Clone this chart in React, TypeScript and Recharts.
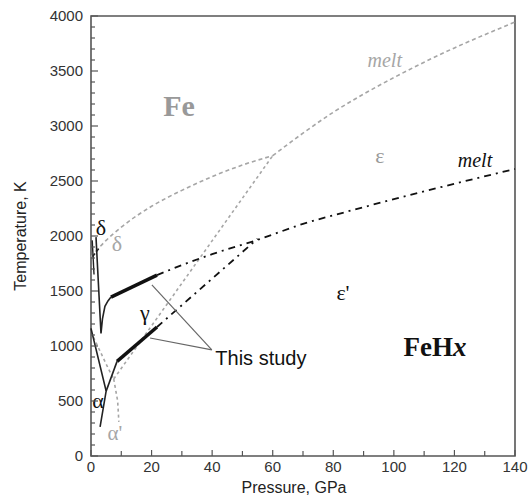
import {
  ComposedChart,
  Line,
  XAxis,
  YAxis,
  ReferenceArea,
  ReferenceDot,
  Label,
} from "recharts";

// ---- Fe phase boundaries (grey dashed) ----
const feMeltLow = [
  { P: 0, T: 1811 },
  { P: 5, T: 1960 },
  { P: 10, T: 2080 },
  { P: 20, T: 2270 },
  { P: 30, T: 2415 },
  { P: 40, T: 2540 },
  { P: 50, T: 2645 },
  { P: 60, T: 2730 },
];
const feMeltHigh = [
  { P: 60, T: 2730 },
  { P: 70, T: 2935 },
  { P: 80, T: 3125 },
  { P: 90, T: 3290 },
  { P: 100, T: 3440 },
  { P: 110, T: 3580 },
  { P: 120, T: 3710 },
  { P: 130, T: 3830 },
  { P: 140, T: 3945 },
];
const feGammaEps = [
  { P: 7.5, T: 700 },
  { P: 60, T: 2730 },
];
const feAlphaGamma = [
  { P: 0.8, T: 1080 },
  { P: 5.8, T: 790 },
  { P: 7.5, T: 700 },
];
const feAlphaEps = [
  { P: 7.5, T: 700 },
  { P: 8.8, T: 500 },
  { P: 9.2, T: 310 },
];

// ---- FeHx boundaries (black) ----
const fehDeltaV = [
  { P: 1.65, T: 1990 },
  { P: 3.3, T: 1115 },
  { P: 3.8, T: 1250 },
  { P: 4.6, T: 1360 },
  { P: 5.6, T: 1410 },
  { P: 6.6, T: 1445 },
];
const fehWedge = [
  { P: 0.4, T: 1960 },
  { P: 1.0, T: 1650 },
];
const fehDeltaTick = [
  { P: 0.55, T: 1812 },
  { P: 2.7, T: 1890 },
];
const studyMelt = [
  { P: 6.6, T: 1445 },
  { P: 21.8, T: 1645 },
];
const fehMelt = [
  { P: 21.8, T: 1645 },
  { P: 30, T: 1735 },
  { P: 40, T: 1835 },
  { P: 55, T: 1965 },
  { P: 70, T: 2110 },
  { P: 85, T: 2225 },
  { P: 100, T: 2335 },
  { P: 120, T: 2475 },
  { P: 140, T: 2610 },
];
const fehAlpha = [
  { P: 0, T: 1160 },
  { P: 5, T: 590 },
  { P: 3, T: 265 },
];
const fehGammaLow = [
  { P: 5, T: 590 },
  { P: 8.6, T: 860 },
];
const studyGammaEps = [
  { P: 8.6, T: 860 },
  { P: 21.8, T: 1173 },
];
const fehGammaEps = [
  { P: 21.8, T: 1173 },
  { P: 55, T: 1975 },
];

// "This study" pointers
const pointerUpper = [
  { P: 20.1, T: 1555 },
  { P: 39.9, T: 964 },
];
const pointerLower = [
  { P: 19.5, T: 1073 },
  { P: 39.9, T: 964 },
];

const xMajor = [0, 20, 40, 60, 80, 100, 120, 140];
const yMajor = [0, 500, 1000, 1500, 2000, 2500, 3000, 3500, 4000];
const xTicks = Array.from({ length: 15 }, (_, i) => i * 10);
const yTicks = Array.from({ length: 41 }, (_, i) => i * 100);

const SANS = "'Liberation Sans', Arial, sans-serif";
const SERIF = "'Liberation Serif', 'Times New Roman', serif";
const AXIS = "#555";
const GREY = "#a6a6a6";
const DASH_DOT = "7 5 2 5";

function YTick(props: any) {
  const { x, y, payload } = props;
  const v = payload.value;
  const major = yMajor.includes(v);
  const ax = x + 8;
  return (
    <g>
      <line x1={ax} x2={ax + (major ? 7 : 4)} y1={y} y2={y} stroke={AXIS} strokeWidth={1.2} />
      {major && (
        <text x={x} y={y} dy={5} textAnchor="end" fontFamily={SANS} fontSize={15} fill="#333">
          {v}
        </text>
      )}
    </g>
  );
}

function XTick(props: any) {
  const { x, y, payload } = props;
  const v = payload.value;
  const major = xMajor.includes(v);
  const ay = y - 4;
  return (
    <g>
      <line x1={x} x2={x} y1={ay} y2={ay - (major ? 6 : 5)} stroke={AXIS} strokeWidth={1.2} />
      {major && (
        <text x={x} y={y + 12} textAnchor="middle" fontFamily={SANS} fontSize={15} fill="#333">
          {v}
        </text>
      )}
    </g>
  );
}

function note(key: string, P: number, T: number, content: any, style: any) {
  return (
    <ReferenceDot
      key={key}
      x={P}
      y={T}
      r={0}
      fill="none"
      stroke="none"
      label={(p: any) => {
        const vb = p.viewBox || {};
        return (
          <text
            x={vb.x}
            y={vb.y}
            textAnchor="middle"
            dominantBaseline="central"
            {...style}
          >
            {content}
          </text>
        );
      }}
    />
  );
}

export default function App() {
  return (
    <div style={{ position: "absolute", left: 0, top: 0, background: "#fff" }}>
      <ComposedChart
        width={530}
        height={497}
        margin={{ top: 16, right: 15, bottom: 0, left: 0 }}
      >
        <XAxis
          type="number"
          dataKey="P"
          domain={[0, 140]}
          ticks={xTicks}
          interval={0}
          tick={<XTick />}
          tickLine={false}
          tickSize={0}
          tickMargin={4}
          axisLine={false}
          height={41}
        >
          <Label
            content={(p: any) => {
              const vb = p.viewBox;
              return (
                <text x={vb.x + vb.width / 2 - 9} y={vb.y + 37} textAnchor="middle" fontFamily={SANS} fontSize={16} fill="#222">
                  Pressure, GPa
                </text>
              );
            }}
          />
        </XAxis>
        <YAxis
          type="number"
          dataKey="T"
          domain={[0, 4000]}
          ticks={yTicks}
          interval={0}
          tick={<YTick />}
          tickLine={false}
          tickSize={0}
          tickMargin={8}
          axisLine={false}
          width={91}
        >
          <Label
            content={(p: any) => {
              const vb = p.viewBox;
              const cy = vb.y + vb.height / 2;
              return (
                <text x={20} y={cy} transform={`rotate(-90, 20, ${cy})`} textAnchor="middle" dominantBaseline="central" fontFamily={SANS} fontSize={16} fill="#222">
                  Temperature, K
                </text>
              );
            }}
          />
        </YAxis>

        <ReferenceArea x1={0} x2={140} y1={0} y2={4000} fill="none" stroke={AXIS} strokeWidth={1.6} />

        {/* Fe */}
        <Line data={feMeltLow} dataKey="T" type="monotone" stroke={GREY} strokeWidth={1.6} strokeDasharray="4 3" dot={false} isAnimationActive={false} />
        <Line data={feMeltHigh} dataKey="T" type="monotone" stroke={GREY} strokeWidth={1.6} strokeDasharray="4 3" dot={false} isAnimationActive={false} />
        <Line data={feGammaEps} dataKey="T" type="linear" stroke={GREY} strokeWidth={1.6} strokeDasharray="3 3" dot={false} isAnimationActive={false} />
        <Line data={feAlphaGamma} dataKey="T" type="linear" stroke={GREY} strokeWidth={1.6} strokeDasharray="3 3" dot={false} isAnimationActive={false} />
        <Line data={feAlphaEps} dataKey="T" type="linear" stroke={GREY} strokeWidth={1.6} strokeDasharray="3 3" dot={false} isAnimationActive={false} />

        {/* FeHx */}
        <Line data={fehWedge} dataKey="T" type="linear" stroke="#222" strokeWidth={1.4} dot={false} isAnimationActive={false} />
        <Line data={fehDeltaV} dataKey="T" type="linear" stroke="#222" strokeWidth={1.6} dot={false} isAnimationActive={false} />
        <Line data={fehDeltaTick} dataKey="T" type="linear" stroke="#222" strokeWidth={1.4} strokeDasharray="4 2" dot={false} isAnimationActive={false} />
        <Line data={studyMelt} dataKey="T" type="linear" stroke="#111" strokeWidth={3.5} dot={false} isAnimationActive={false} />
        <Line data={fehMelt} dataKey="T" type="monotone" stroke="#111" strokeWidth={1.8} strokeDasharray={DASH_DOT} dot={false} isAnimationActive={false} />
        <Line data={fehAlpha} dataKey="T" type="linear" stroke="#222" strokeWidth={1.6} dot={false} isAnimationActive={false} />
        <Line data={fehGammaLow} dataKey="T" type="linear" stroke="#222" strokeWidth={1.6} dot={false} isAnimationActive={false} />
        <Line data={studyGammaEps} dataKey="T" type="linear" stroke="#111" strokeWidth={3.5} dot={false} isAnimationActive={false} />
        <Line data={fehGammaEps} dataKey="T" type="linear" stroke="#111" strokeWidth={1.8} strokeDasharray={DASH_DOT} dot={false} isAnimationActive={false} />

        {/* pointers */}
        <Line data={pointerUpper} dataKey="T" type="linear" stroke="#666" strokeWidth={1.2} dot={false} isAnimationActive={false} />
        <Line data={pointerLower} dataKey="T" type="linear" stroke="#666" strokeWidth={1.2} dot={false} isAnimationActive={false} />

        {note("fe", 29.1, 3182, "Fe", { fontFamily: SERIF, fontSize: 30, fontWeight: "bold", fill: "#999" })}
        {note("meltFe", 97, 3600, "melt", { fontFamily: SERIF, fontSize: 20, fontStyle: "italic", fill: GREY })}
        {note("eps", 95.4, 2736, "ε", { fontFamily: SERIF, fontSize: 22, fill: "#999" })}
        {note("meltFeH", 126.8, 2690, "melt", { fontFamily: SERIF, fontSize: 20, fontStyle: "italic", fill: "#111" })}
        {note("deltaB", 3.3, 2073, "δ", { fontFamily: SERIF, fontSize: 22, fill: "#111" })}
        {note("deltaG", 8.6, 1936, "δ", { fontFamily: SERIF, fontSize: 22, fill: GREY })}
        {note("gamma", 17.8, 1309, "γ", { fontFamily: SERIF, fontSize: 22, fill: "#111" })}
        {note("epsP", 83.2, 1482, "ε'", { fontFamily: SERIF, fontSize: 22, fill: "#111" })}
        {note("alphaB", 2.3, 509, "α", { fontFamily: SERIF, fontSize: 22, fill: "#111" })}
        {note("alphaG", 7.9, 209, "α'", { fontFamily: SERIF, fontSize: 21, fill: GREY })}
        {note("study", 56.1, 890, "This study", { fontFamily: SANS, fontSize: 20, fill: "#111" })}
        {note(
          "feh",
          113.6,
          990,
          [
            <tspan key="a">FeH</tspan>,
            <tspan key="b" fontStyle="italic">x</tspan>,
          ],
          { fontFamily: SERIF, fontSize: 27, fontWeight: "bold", fill: "#111" }
        )}
      </ComposedChart>
    </div>
  );
}
